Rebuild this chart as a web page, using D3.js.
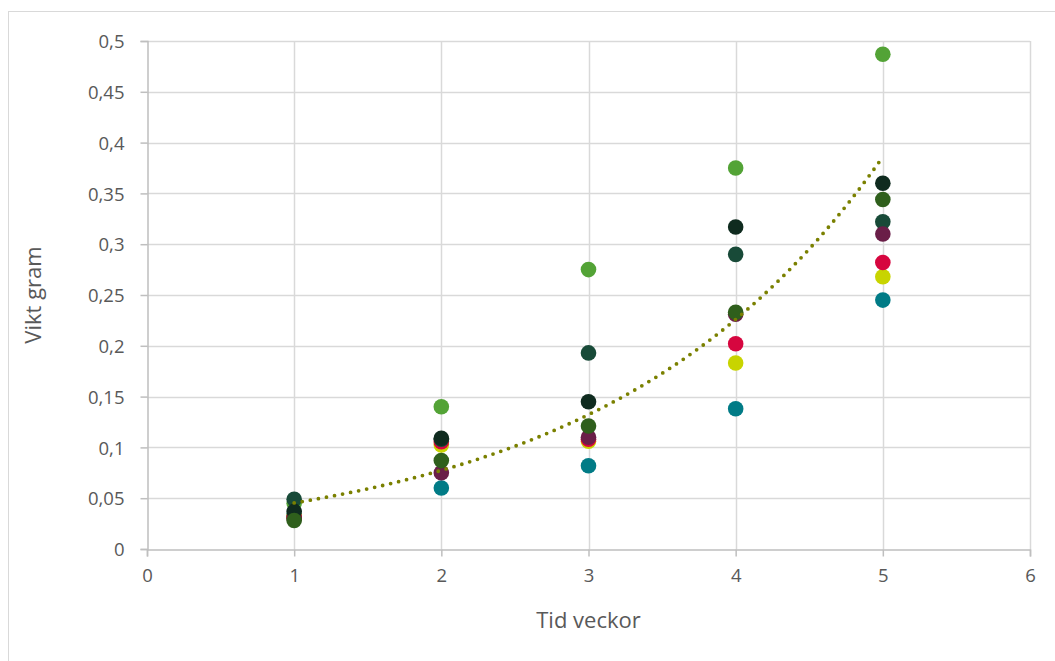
<!DOCTYPE html>
<html>
<head>
<meta charset="utf-8">
<script src="https://cdn.jsdelivr.net/npm/d3@7"></script>
<style>
  html, body { margin: 0; padding: 0; background: #ffffff; }
  svg { display: block; }
  text { font-family: "Open Sans", Lato, sans-serif; fill: #595959; }
</style>
</head>
<body>
<svg id="chart" width="1055" height="661"></svg>
<script>
// Weeks measured
const weeks = [1, 2, 3, 4, 5];

// Weight in grams per plant, one array per plant (drawing order)
const seriesNames = ["Teal", "Gul", "Röd", "Ljusgrön", "Mörkgrön", "Lila", "Svart", "Oliv"];
const seriesColors = ["#017b86", "#c8d400", "#d6063f", "#53a336", "#184a38", "#6a1e48", "#0f2b1f", "#2f5f1c"];
const teal      = [0.033, 0.060, 0.082, 0.138, 0.245];
const gul       = [0.032, 0.1025, 0.106, 0.183, 0.268];
const rod       = [0.031, 0.1055, 0.108, 0.202, 0.282];
const ljusgron  = [0.045, 0.140, 0.275, 0.375, 0.487];
const morkgron  = [0.049, 0.108, 0.193, 0.290, 0.322];
const lila      = [0.030, 0.075, 0.110, 0.231, 0.310];
const svart     = [0.037, 0.109, 0.145, 0.317, 0.360];
const oliv      = [0.028, 0.087, 0.121, 0.233, 0.344];
const seriesValues = [teal, gul, rod, ljusgron, morkgron, lila, svart, oliv];

// Exponential trend y = a * e^(b x)
const trendA = 0.02652;
const trendB = 0.5356;
const trendColor = "#7a8000";

// Axis ticks
const xTicks = [0, 1, 2, 3, 4, 5, 6];
const yTicks = [0, 0.05, 0.1, 0.15, 0.2, 0.25, 0.3, 0.35, 0.4, 0.45, 0.5];

const xTitle = "Tid veckor";
const yTitle = "Vikt gram";

const svg = d3.select("#chart");

// Chart area frame
svg.append("rect")
  .attr("x", 8.5).attr("y", 11.5)
  .attr("width", 1060).attr("height", 660)
  .attr("fill", "none").attr("stroke", "#d9d9d9").attr("stroke-width", 1);

const plot = { left: 147, right: 1030, top: 41, bottom: 549 };

const x = d3.scaleLinear().domain([0, 6]).range([plot.left, plot.right]);
const y = d3.scaleLinear().domain([0, 0.5]).range([plot.bottom, plot.top]);

const fmt = v => d3.format("~g")(v).replace(".", ",");

// Grid lines
svg.append("g")
  .selectAll("line.h")
  .data(yTicks.filter(d => d > 0))
  .join("line")
  .attr("x1", plot.left).attr("x2", plot.right)
  .attr("y1", d => Math.round(y(d)) + 0.5).attr("y2", d => Math.round(y(d)) + 0.5)
  .attr("stroke", "#d9d9d9").attr("stroke-width", 1.5);

svg.append("g")
  .selectAll("line.v")
  .data(xTicks.filter(d => d > 0))
  .join("line")
  .attr("x1", d => Math.round(x(d)) + 0.5).attr("x2", d => Math.round(x(d)) + 0.5)
  .attr("y1", plot.top).attr("y2", plot.bottom)
  .attr("stroke", "#d9d9d9").attr("stroke-width", 1.5);

// Axes
const xAxis = d3.axisBottom(x).tickValues(xTicks).tickFormat(fmt).tickSize(7).tickPadding(12);
const yAxis = d3.axisLeft(y).tickValues(yTicks).tickFormat(fmt).tickSize(7).tickPadding(16);

const gx = svg.append("g").attr("transform", `translate(0,${plot.bottom + 0.5})`).call(xAxis);
const gy = svg.append("g").attr("transform", `translate(${plot.left + 0.5},0)`).call(yAxis);

[gx, gy].forEach(g => {
  g.select(".domain").attr("stroke", "#bfbfbf").attr("stroke-width", 1.5);
  g.selectAll(".tick line").attr("stroke", "#bfbfbf").attr("stroke-width", 1.5);
  g.selectAll(".tick text")
    .attr("fill", "#595959")
    .style("font-family", "'Open Sans', Lato, sans-serif")
    .style("font-size", "18.5px");
});
gy.selectAll(".tick text").attr("dy", "0.36em");

// Axis titles
svg.append("text")
  .attr("x", (plot.left + plot.right) / 2)
  .attr("y", 628)
  .attr("text-anchor", "middle")
  .style("font-size", "22px")
  .text(xTitle);

svg.append("text")
  .attr("transform", `translate(41,${(plot.top + plot.bottom) / 2}) rotate(-90)`)
  .attr("text-anchor", "middle")
  .style("font-size", "22px")
  .text(yTitle);

// Markers
seriesValues.forEach((vals, i) => {
  svg.append("g")
    .selectAll("circle")
    .data(vals.map((v, j) => ({ w: weeks[j], v })))
    .join("circle")
    .attr("cx", d => x(d.w))
    .attr("cy", d => y(d.v))
    .attr("r", 7.8)
    .attr("fill", seriesColors[i]);
});

// Trend line
const trendPts = d3.range(0, 161).map(k => {
  const t = 1 + k * 4 / 160;
  return [t, trendA * Math.exp(trendB * t)];
});
svg.append("path")
  .datum(trendPts)
  .attr("d", d3.line().x(d => x(d[0])).y(d => y(d[1])))
  .attr("fill", "none")
  .attr("stroke", trendColor)
  .attr("stroke-width", 3.8)
  .attr("stroke-linecap", "round")
  .attr("stroke-dasharray", "0 8.2");
</script>
</body>
</html>
